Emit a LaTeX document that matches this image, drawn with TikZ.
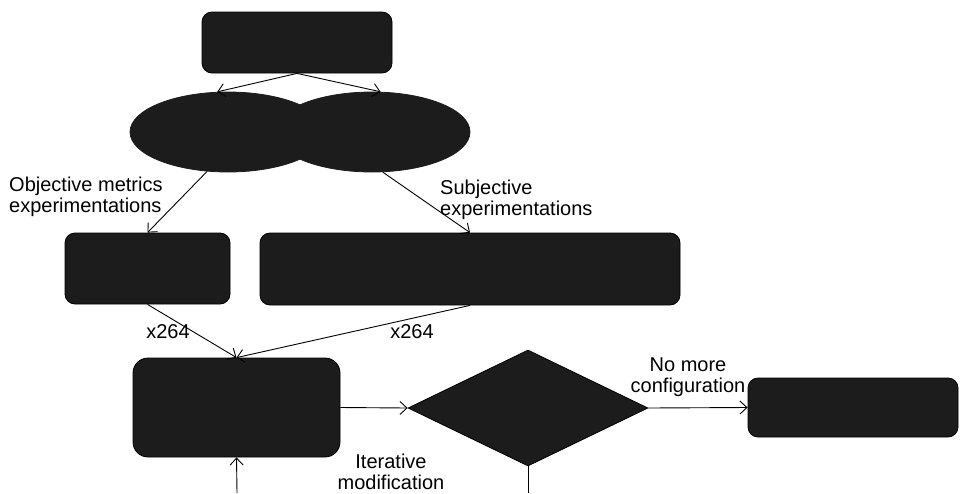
\documentclass[tikz,border=0pt]{standalone}
\usepackage{fontspec}
\setmainfont{Liberation Sans}
\usetikzlibrary{shapes.geometric,arrows.meta}

\definecolor{shapefill}{gray}{0.11}

\tikzset{
  flowbox/.style={draw=black, line width=0.8pt, fill=shapefill, rounded corners=10pt, inner sep=0pt},
  flowoval/.style={draw=shapefill, line width=0.8pt, fill=shapefill, ellipse, inner sep=0pt,
                   minimum width=196pt, minimum height=80pt},
  flowtest/.style={draw=black, line width=0.8pt, fill=shapefill, diamond, inner sep=0pt,
                   minimum width=240pt, minimum height=116pt},
  link/.style={line width=0.9pt, -{Straight Barb[length=7pt,width=13pt]}},
  plainlink/.style={line width=0.9pt},
  lbl/.style={font=\fontsize{20}{21}\selectfont, inner sep=0pt},
}

\begin{document}
\begin{tikzpicture}[x=1pt, y=-1pt]
  \useasboundingbox (0,0) rectangle (960,493);

  % starting block
  \node[flowbox, minimum width=190pt, minimum height=61pt] (start) at (297,42.5) {};

  % the two experiment families
  \node[flowoval] (objoval) at (228,132) {};
  \node[flowoval] (subjoval) at (372,132) {};

  % result blocks of the two families
  \node[flowbox, minimum width=165pt, minimum height=71pt] (objres) at (147.5,268.5) {};
  \node[flowbox, minimum width=420pt, minimum height=72pt] (subjres) at (470,269) {};

  % combination block
  \node[flowbox, rounded corners=15pt, minimum width=207pt, minimum height=99pt] (combine) at (236.5,407.5) {};

  % decision
  \node[flowtest] (decide) at (528,408) {};

  % final block
  \node[flowbox, minimum width=210pt, minimum height=59pt] (final) at (853,407.5) {};

  % loop ends at the lower edge
  \coordinate (loopout) at (528,493);
  \coordinate (loopin) at (237,493);

  % connectors
  \draw[link] (start.south) -- (objoval.105);
  \draw[link] (start.south) -- (subjoval.78);
  \draw[link] (objoval.-118) -- (objres.north);
  \draw[link] (subjoval.-75) -- (subjres.north);
  \draw[link] (objres.south) -- (combine.north);
  \draw[link] (subjres.south) -- (combine.north);
  \draw[link] (combine.east) -- (decide.west);
  \draw[link] (decide.east) -- (final.west);
  \draw[plainlink] (decide.south) -- (loopout);
  \draw[link] (loopin) -- (combine.south);

  % labels
  \node[lbl, anchor=west, align=left] (objlbl) at (9,197) {Objective metrics\\experimentations};
  \node[lbl, anchor=west, align=left] (subjlbl) at (440,200) {Subjective\\experimentations};
  \node[lbl] (objx) at (168,332) {x264};
  \node[lbl] (subjx) at (412,332) {x264};
  \node[lbl, align=center] (nomore) at (688,377) {No more\\configuration};
  \node[lbl, align=center] (iter) at (391,472) {Iterative\\modification};
\end{tikzpicture}
\end{document}
